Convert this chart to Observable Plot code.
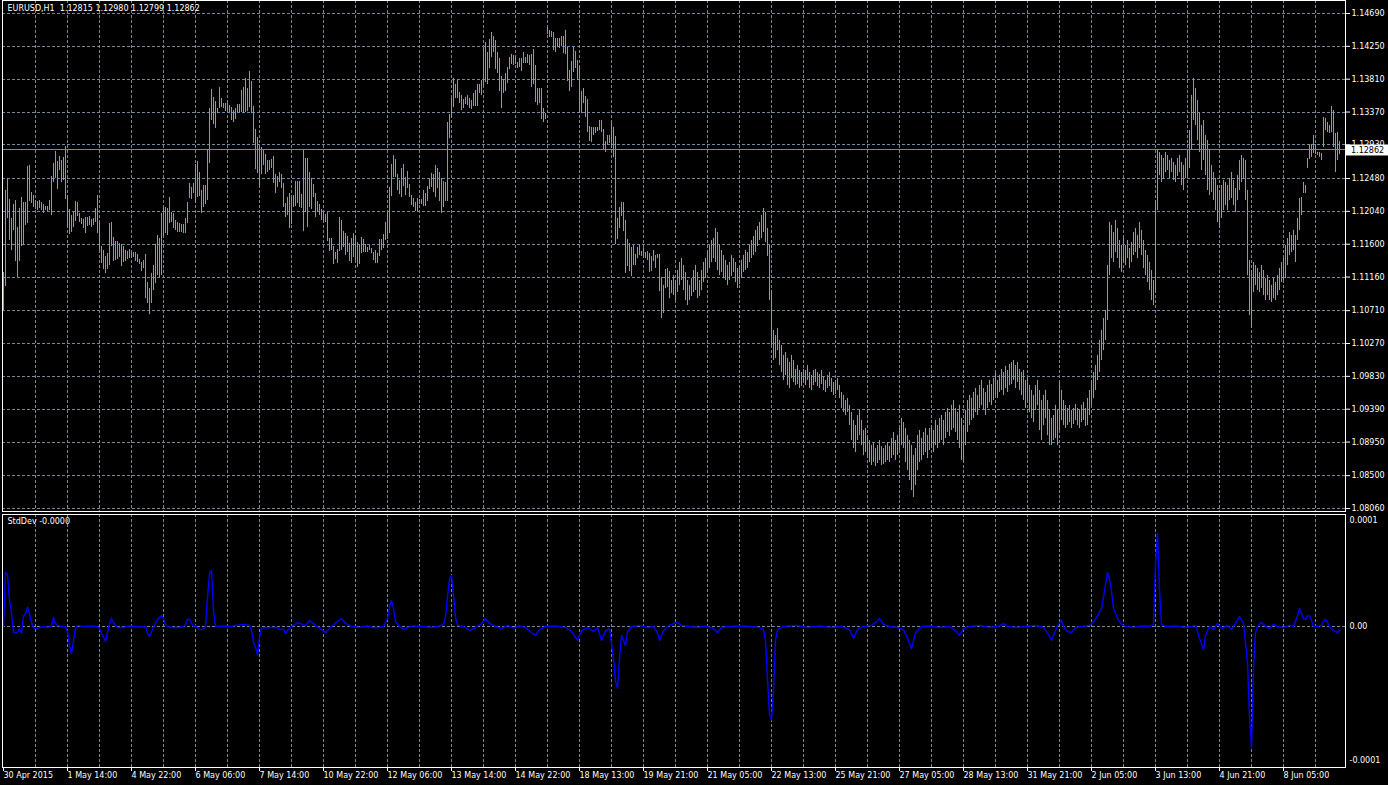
<!DOCTYPE html>
<html><head><meta charset="utf-8">
<script src="https://cdn.jsdelivr.net/npm/d3@7"></script>
<script src="https://cdn.jsdelivr.net/npm/@observablehq/plot@0.6"></script>
<style>
html,body{margin:0;padding:0;background:#000;overflow:hidden;}
#chart{position:relative;width:1388px;height:785px;background:#000;}
#chart svg{position:absolute;left:0;max-width:none;}
</style></head><body><div id="chart"></div>
<script>
// ---------- data ----------
const symbol = "EURUSD,H1";
const lastOHLC = [1.12815, 1.12980, 1.12799, 1.12862];

const highs = [
1.1122,1.1232,1.1248,1.1220,1.1194,1.1213,1.1218,1.1182,1.1208,1.1223,
1.1216,1.1216,1.1264,1.1265,1.1229,1.1225,1.1218,1.1217,1.1218,1.1216,
1.1213,1.1211,1.1211,1.1218,1.1251,1.1268,1.1284,1.1271,1.1278,1.1272,
1.1276,1.1291,1.1225,1.1206,1.1198,1.1202,1.1217,1.1216,1.1201,1.1194,
1.1193,1.1196,1.1196,1.1197,1.1193,1.1194,1.1208,1.1225,1.1189,1.1157,
1.1152,1.1144,1.1148,1.1188,1.1189,1.1169,1.1164,1.1164,1.1161,1.1160,
1.1157,1.1152,1.1150,1.1153,1.1150,1.1149,1.1149,1.1146,1.1139,1.1136,
1.1138,1.1146,1.1109,1.1101,1.1121,1.1132,1.1160,1.1172,1.1168,1.1201,
1.1209,1.1209,1.1208,1.1223,1.1202,1.1201,1.1192,1.1189,1.1188,1.1186,
1.1186,1.1194,1.1216,1.1241,1.1236,1.1241,1.1267,1.1271,1.1256,1.1232,
1.1239,1.1239,1.1287,1.1342,1.1367,1.1357,1.1351,1.1342,1.1370,1.1355,
1.1349,1.1349,1.1349,1.1346,1.1343,1.1339,1.1342,1.1347,1.1347,1.1366,
1.1370,1.1382,1.1369,1.1391,1.1378,1.1345,1.1314,1.1303,1.1290,1.1290,
1.1286,1.1280,1.1272,1.1272,1.1273,1.1278,1.1253,1.1251,1.1256,1.1253,
1.1241,1.1215,1.1223,1.1228,1.1223,1.1225,1.1244,1.1244,1.1244,1.1227,
1.1287,1.1275,1.1275,1.1256,1.1248,1.1240,1.1228,1.1217,1.1213,1.1206,
1.1201,1.1200,1.1202,1.1168,1.1168,1.1157,1.1149,1.1153,1.1196,1.1192,
1.1177,1.1174,1.1170,1.1161,1.1168,1.1174,1.1170,1.1162,1.1160,1.1169,
1.1166,1.1160,1.1156,1.1158,1.1154,1.1149,1.1152,1.1148,1.1166,1.1166,
1.1173,1.1189,1.1202,1.1236,1.1267,1.1279,1.1273,1.1253,1.1245,1.1261,
1.1267,1.1249,1.1257,1.1240,1.1225,1.1221,1.1216,1.1221,1.1220,1.1220,
1.1232,1.1228,1.1237,1.1247,1.1255,1.1253,1.1265,1.1261,1.1256,1.1248,
1.1244,1.1243,1.1323,1.1334,1.1355,1.1382,1.1374,1.1379,1.1363,1.1359,
1.1354,1.1357,1.1359,1.1355,1.1353,1.1362,1.1366,1.1374,1.1374,1.1379,
1.1422,1.1430,1.1417,1.1434,1.1444,1.1438,1.1433,1.1417,1.1409,1.1385,
1.1381,1.1389,1.1397,1.1410,1.1414,1.1413,1.1411,1.1403,1.1409,1.1409,
1.1417,1.1410,1.1414,1.1413,1.1414,1.1421,1.1399,1.1369,1.1369,1.1369,
1.1342,1.1335,1.1450,1.1446,1.1445,1.1444,1.1436,1.1436,1.1436,1.1438,
1.1438,1.1446,1.1423,1.1393,1.1405,1.1423,1.1418,1.1406,1.1398,1.1365,
1.1369,1.1358,1.1354,1.1318,1.1316,1.1316,1.1316,1.1316,1.1326,1.1326,
1.1314,1.1298,1.1306,1.1306,1.1322,1.1316,1.1304,1.1194,1.1209,1.1216,
1.1216,1.1192,1.1166,1.1161,1.1156,1.1158,1.1146,1.1156,1.1158,1.1150,
1.1154,1.1149,1.1150,1.1148,1.1144,1.1152,1.1145,1.1146,1.1146,1.1115,
1.1105,1.1126,1.1128,1.1124,1.1111,1.1118,1.1111,1.1125,1.1136,1.1141,
1.1132,1.1122,1.1111,1.1105,1.1114,1.1125,1.1132,1.1122,1.1111,1.1125,
1.1136,1.1141,1.1152,1.1158,1.1165,1.1168,1.1181,1.1176,1.1158,1.1152,
1.1145,1.1138,1.1132,1.1136,1.1145,1.1141,1.1136,1.1128,1.1130,1.1138,
1.1145,1.1152,1.1149,1.1158,1.1165,1.1170,1.1178,1.1184,1.1189,1.1198,
1.1208,1.1202,1.1181,1.1158,1.1098,1.1044,1.1038,1.1047,1.1031,1.1024,
1.1011,1.1015,1.1007,1.1002,1.1011,1.1004,1.0992,1.0998,1.0991,1.0988,
1.0992,1.0991,1.0998,1.0988,1.0984,1.0991,1.0992,1.0988,1.0985,1.0991,
1.0983,1.0977,1.0984,1.0988,1.0980,1.0975,1.0977,1.0980,1.0971,1.0961,
1.0957,1.0951,1.0953,1.0944,1.0935,1.0924,1.0917,1.0931,1.0937,1.0924,
1.0911,1.0913,1.0904,1.0897,1.0890,1.0894,1.0886,1.0890,1.0897,1.0889,
1.0886,1.0890,1.0894,1.0889,1.0900,1.0908,1.0897,1.0904,1.0913,1.0927,
1.0921,1.0913,1.0904,1.0897,1.0890,1.0877,1.0886,1.0904,1.0911,1.0900,
1.0908,1.0913,1.0904,1.0913,1.0917,1.0911,1.0924,1.0917,1.0927,1.0931,
1.0924,1.0935,1.0940,1.0935,1.0944,1.0951,1.0940,1.0935,1.0944,1.0927,
1.0917,1.0937,1.0951,1.0957,1.0953,1.0961,1.0967,1.0957,1.0971,1.0977,
1.0967,1.0961,1.0971,1.0977,1.0972,1.0980,1.0988,1.0977,1.0984,1.0992,
1.0988,1.0996,1.0991,1.0999,1.1002,1.1004,1.0998,1.1002,1.0992,1.0988,
1.0991,1.0977,1.0980,1.0971,1.0964,1.0957,1.0971,1.0977,1.0964,1.0951,
1.0957,1.0964,1.0951,1.0937,1.0927,1.0931,1.0944,1.0937,1.0975,1.0964,
1.0951,1.0944,1.0940,1.0944,1.0937,1.0940,1.0945,1.0940,1.0937,1.0944,
1.0948,1.0940,1.0953,1.0964,1.0977,1.0988,1.0998,1.1011,1.1031,1.1044,
1.1061,1.1071,1.1132,1.1189,1.1185,1.1176,1.1192,1.1181,1.1165,1.1158,
1.1168,1.1158,1.1165,1.1154,1.1162,1.1176,1.1181,1.1172,1.1189,1.1178,
1.1165,1.1152,1.1145,1.1136,1.1125,1.1111,1.1218,1.1286,1.1283,1.1279,
1.1275,1.1283,1.1279,1.1272,1.1275,1.1269,1.1265,1.1275,1.1279,1.1269,
1.1265,1.1275,1.1286,1.1312,1.1359,1.1382,1.1369,1.1353,1.1336,1.1319,
1.1326,1.1306,1.1299,1.1286,1.1265,1.1256,1.1248,1.1239,1.1232,1.1239,
1.1245,1.1243,1.1239,1.1248,1.1256,1.1245,1.1235,1.1252,1.1272,1.1279,
1.1275,1.1272,1.1232,1.1138,1.1125,1.1136,1.1132,1.1128,1.1122,1.1132,
1.1125,1.1114,1.1118,1.1111,1.1105,1.1114,1.1109,1.1118,1.1128,1.1136,
1.1141,1.1158,1.1168,1.1176,1.1172,1.1178,1.1172,1.1194,1.1221,1.1223,
1.1243,1.1239,1.1275,1.1294,1.1294,1.1306,1.1294,1.1283,1.1283,1.1282,
1.1330,1.1328,1.1323,1.1319,1.1345,1.1339,1.1308,1.1310,1.1298
];

const lows = [
1.1071,1.1103,1.1194,1.1165,1.1152,1.1178,1.1137,1.1115,1.1137,1.1157,
1.1158,1.1185,1.1188,1.1217,1.1215,1.1209,1.1206,1.1205,1.1208,1.1205,
1.1201,1.1205,1.1204,1.1205,1.1198,1.1243,1.1248,1.1233,1.1259,1.1243,
1.1245,1.1220,1.1182,1.1173,1.1176,1.1182,1.1190,1.1197,1.1189,1.1186,
1.1181,1.1174,1.1184,1.1185,1.1182,1.1185,1.1189,1.1174,1.1152,1.1134,
1.1126,1.1121,1.1126,1.1132,1.1157,1.1137,1.1138,1.1139,1.1142,1.1130,
1.1136,1.1137,1.1139,1.1141,1.1141,1.1142,1.1137,1.1136,1.1133,1.1124,
1.1128,1.1087,1.1081,1.1066,1.1081,1.1098,1.1107,1.1118,1.1115,1.1118,
1.1170,1.1174,1.1172,1.1188,1.1189,1.1181,1.1178,1.1176,1.1176,1.1176,
1.1174,1.1174,1.1188,1.1221,1.1220,1.1228,1.1215,1.1223,1.1224,1.1201,
1.1209,1.1213,1.1218,1.1268,1.1326,1.1320,1.1315,1.1335,1.1342,1.1343,
1.1342,1.1338,1.1336,1.1335,1.1326,1.1323,1.1327,1.1336,1.1336,1.1336,
1.1335,1.1336,1.1338,1.1343,1.1335,1.1295,1.1260,1.1255,1.1236,1.1253,
1.1265,1.1253,1.1256,1.1259,1.1261,1.1241,1.1228,1.1236,1.1243,1.1235,
1.1209,1.1196,1.1198,1.1181,1.1186,1.1209,1.1211,1.1215,1.1209,1.1208,
1.1177,1.1202,1.1182,1.1209,1.1206,1.1223,1.1196,1.1202,1.1198,1.1192,
1.1190,1.1189,1.1164,1.1150,1.1152,1.1133,1.1139,1.1134,1.1150,1.1152,
1.1156,1.1145,1.1149,1.1137,1.1134,1.1142,1.1138,1.1129,1.1133,1.1148,
1.1149,1.1149,1.1149,1.1152,1.1148,1.1138,1.1134,1.1134,1.1144,1.1152,
1.1154,1.1165,1.1166,1.1174,1.1224,1.1249,1.1249,1.1232,1.1227,1.1223,
1.1237,1.1225,1.1235,1.1223,1.1212,1.1209,1.1204,1.1204,1.1213,1.1213,
1.1211,1.1211,1.1217,1.1233,1.1236,1.1229,1.1223,1.1235,1.1217,1.1201,
1.1209,1.1217,1.1217,1.1302,1.1328,1.1343,1.1355,1.1355,1.1349,1.1339,
1.1342,1.1347,1.1346,1.1342,1.1340,1.1345,1.1345,1.1345,1.1362,1.1359,
1.1373,1.1377,1.1374,1.1395,1.1410,1.1417,1.1394,1.1389,1.1365,1.1342,
1.1362,1.1365,1.1375,1.1394,1.1401,1.1399,1.1401,1.1395,1.1397,1.1391,
1.1402,1.1402,1.1402,1.1399,1.1370,1.1374,1.1350,1.1346,1.1349,1.1327,
1.1323,1.1327,1.1441,1.1437,1.1437,1.1419,1.1417,1.1423,1.1422,1.1425,
1.1415,1.1414,1.1378,1.1365,1.1370,1.1390,1.1395,1.1379,1.1335,1.1335,
1.1349,1.1330,1.1310,1.1298,1.1296,1.1306,1.1308,1.1311,1.1312,1.1310,
1.1286,1.1283,1.1292,1.1295,1.1288,1.1276,1.1160,1.1166,1.1181,1.1197,
1.1177,1.1121,1.1130,1.1124,1.1117,1.1132,1.1132,1.1141,1.1145,1.1144,
1.1141,1.1141,1.1138,1.1122,1.1124,1.1137,1.1128,1.1141,1.1097,1.1061,
1.1067,1.1101,1.1102,1.1087,1.1094,1.1091,1.1085,1.1095,1.1105,1.1111,
1.1098,1.1085,1.1078,1.1085,1.1090,1.1095,1.1098,1.1087,1.1090,1.1098,
1.1109,1.1114,1.1122,1.1128,1.1136,1.1141,1.1136,1.1125,1.1118,1.1122,
1.1114,1.1111,1.1105,1.1111,1.1117,1.1122,1.1109,1.1101,1.1106,1.1114,
1.1122,1.1125,1.1128,1.1136,1.1141,1.1145,1.1149,1.1157,1.1165,1.1168,
1.1176,1.1162,1.1144,1.1085,1.1024,1.1004,1.1007,1.1018,1.0998,1.0988,
1.0977,1.0984,1.0971,1.0967,1.0980,1.0975,1.0971,1.0972,1.0967,1.0969,
1.0975,1.0971,1.0977,1.0967,1.0964,1.0971,1.0975,1.0969,1.0967,1.0972,
1.0964,1.0961,1.0967,1.0969,1.0961,1.0957,1.0959,1.0964,1.0953,1.0940,
1.0935,1.0931,1.0935,1.0917,1.0897,1.0886,1.0881,1.0897,1.0904,1.0890,
1.0877,1.0881,1.0873,1.0868,1.0864,1.0868,1.0862,1.0866,1.0870,1.0864,
1.0865,1.0868,1.0870,1.0868,1.0873,1.0877,1.0870,1.0877,1.0884,1.0890,
1.0886,1.0868,1.0857,1.0844,1.0830,1.0821,1.0837,1.0857,1.0868,1.0870,
1.0877,1.0881,1.0873,1.0884,1.0886,1.0881,1.0890,1.0886,1.0894,1.0897,
1.0890,1.0900,1.0908,1.0902,1.0911,1.0913,1.0908,1.0897,1.0886,1.0870,
1.0868,1.0890,1.0908,1.0917,1.0924,1.0927,1.0935,1.0931,1.0940,1.0944,
1.0937,1.0931,1.0940,1.0948,1.0944,1.0951,1.0957,1.0953,1.0961,1.0964,
1.0957,1.0967,1.0961,1.0971,1.0972,1.0977,1.0967,1.0975,1.0964,1.0957,
1.0951,1.0940,1.0948,1.0935,1.0927,1.0921,1.0937,1.0944,1.0911,1.0897,
1.0917,1.0927,1.0904,1.0890,1.0890,1.0897,1.0900,1.0890,1.0911,1.0924,
1.0917,1.0913,1.0917,1.0921,1.0913,1.0919,1.0924,1.0917,1.0913,1.0921,
1.0924,1.0916,1.0917,1.0931,1.0944,1.0953,1.0964,1.0977,1.0988,1.1004,
1.1018,1.1031,1.1058,1.1118,1.1141,1.1136,1.1149,1.1141,1.1128,1.1122,
1.1136,1.1132,1.1141,1.1128,1.1136,1.1145,1.1149,1.1141,1.1154,1.1145,
1.1128,1.1118,1.1109,1.1098,1.1085,1.1078,1.1098,1.1205,1.1252,1.1243,
1.1248,1.1256,1.1259,1.1248,1.1256,1.1245,1.1243,1.1251,1.1256,1.1239,
1.1232,1.1248,1.1252,1.1261,1.1286,1.1326,1.1319,1.1299,1.1283,1.1259,
1.1272,1.1252,1.1232,1.1225,1.1229,1.1219,1.1205,1.1189,1.1181,1.1194,
1.1205,1.1212,1.1205,1.1219,1.1221,1.1212,1.1202,1.1219,1.1232,1.1243,
1.1248,1.1219,1.1118,1.1064,1.1047,1.1095,1.1105,1.1098,1.1095,1.1101,
1.1091,1.1085,1.1091,1.1085,1.1082,1.1087,1.1085,1.1091,1.1098,1.1109,
1.1111,1.1114,1.1132,1.1145,1.1149,1.1152,1.1136,1.1165,1.1178,1.1198,
1.1228,1.1228,1.1261,1.1273,1.1276,1.1282,1.1280,1.1279,1.1276,1.1272,
1.1290,1.1312,1.1310,1.1308,1.1310,1.1290,1.1256,1.1272,1.1280
];

const timeLabels = ["30 Apr 2015","1 May 14:00","4 May 22:00","6 May 06:00","7 May 14:00",
  "10 May 22:00","12 May 06:00","13 May 14:00","14 May 22:00","18 May 13:00","19 May 21:00",
  "21 May 05:00","22 May 13:00","25 May 21:00","27 May 05:00","28 May 13:00","31 May 21:00",
  "2 Jun 05:00","3 Jun 13:00","4 Jun 21:00","8 Jun 05:00"];

const priceTicks = [1.14690,1.14250,1.13810,1.13370,1.12930,1.12480,1.12040,1.11600,
  1.11160,1.10710,1.10270,1.09830,1.09390,1.08950,1.08500,1.08060];

const stdName = "StdDev";
const stdBars = [0,1,2,3,4,5,6,7,8,9,10,11,12,13,14,15,16,18,20,22,24,25,26,27,29,31,32,33,34,35,36,37,40,44,47,48,49,50,51,52,53,54,55,56,57,60,63,66,69,71,72,73,74,75,76,77,78,79,80,81,82,84,88,90,91,92,93,94,95,96,97,98,99,100,101,102,103,104,105,106,110,114,116,120,123,124,125,126,127,128,129,133,137,138,139,140,141,142,143,144,145,146,147,148,151,153,156,159,161,164,167,169,171,174,178,182,186,190,192,193,194,195,196,198,200,202,205,210,214,218,220,221,222,223,224,225,226,227,230,233,236,239,241,243,246,249,252,255,258,261,264,266,268,271,276,281,284,287,289,292,295,297,299,301,303,305,306,307,308,309,311,312,314,318,322,325,327,328,330,332,335,337,339,343,347,351,355,357,359,363,368,373,378,380,381,382,383,384,385,386,387,390,396,402,408,414,419,423,425,427,430,434,436,438,440,443,447,450,452,454,456,459,463,468,473,476,478,480,483,488,493,498,500,502,506,511,516,520,522,524,526,527,529,530,532,534,536,539,543,545,547,549,550,552,553,554,555,557,559,561,565,569,573,575,576,577,578,579,581,586,591,594,596,598,600,601,603,605,607,609,612,614,616,618,620,621,622,623,624,625,626,627,629,631,633,635,637,640,643,645,647,648,649,650,651,652,653,654,655,657,658,659,660,661,662,663,664,665,666,667,668];
const stdValues = [0,51e-6,49e-6,24.5e-6,13e-6,-5.7e-6,-5.7e-6,-5.7e-6,-1.9e-6,-6.6e-6,10e-6,12e-6,18e-6,12e-6,3.8e-6,-1e-6,-2e-6,-1e-6,0,-1e-6,0,8.5e-6,3e-6,1e-6,0,0,-5.3e-6,-18e-6,-25.5e-6,-13e-6,-2e-6,1e-6,0,0.5e-6,0,-2e-6,-6.6e-6,-10e-6,-14e-6,-5.7e-6,2.8e-6,7.5e-6,3.8e-6,1e-6,-1e-6,-1e-6,0.5e-6,0,-0.5e-6,0,-6.3e-6,-9.4e-6,-5.3e-6,-0.6e-6,3e-6,6.6e-6,8.5e-6,10.4e-6,7.5e-6,1.9e-6,0,-1e-6,-1e-6,0,1.9e-6,6.6e-6,6.9e-6,3e-6,0,1e-6,-1.6e-6,-3e-6,-3e-6,-2e-6,0,27.6e-6,50e-6,53e-6,15e-6,0,0.5e-6,0,1e-6,2e-6,1e-6,-3.8e-6,-14.8e-6,-19.5e-6,-27e-6,-10e-6,-1.6e-6,-1e-6,-1e-6,-3e-6,-2.5e-6,-2.5e-6,-6.6e-6,-3.8e-6,-1.6e-6,0,1e-6,2e-6,3.8e-6,3e-6,1e-6,5.7e-6,1e-6,-3e-6,-5.7e-6,0,4.7e-6,7.5e-6,3e-6,0,-1e-6,0.5e-6,-1.5e-6,0,7.5e-6,19e-6,24.5e-6,17e-6,4.7e-6,0,-3e-6,-1e-6,0.5e-6,0,-1e-6,0.5e-6,2e-6,9.4e-6,28e-6,45e-6,48e-6,30e-6,8.5e-6,1e-6,0,-3.8e-6,-1e-6,2.8e-6,7.5e-6,3e-6,0,-2e-6,1e-6,-1.5e-6,0.5e-6,-1e-6,-5.7e-6,-8.5e-6,-3e-6,0,0.5e-6,-1e-6,-4.7e-6,-13e-6,-4e-6,-1e-6,-4.7e-6,-1e-6,-13e-6,-4e-6,-2e-6,-30e-6,-52e-6,-58e-6,-30e-6,-8.5e-6,-18e-6,-5e-6,0,1e-6,-1e-6,0,-6e-6,-13e-6,-4e-6,0,2.8e-6,3.8e-6,1e-6,0,-1e-6,0.5e-6,-2e-6,-5.7e-6,-1e-6,0,0.5e-6,0,-1e-6,-3e-6,-13e-6,-50e-6,-83e-6,-88e-6,-60e-6,-13e-6,-3e-6,0,1e-6,-1e-6,0.5e-6,-1e-6,0,-3e-6,-11e-6,-3e-6,0,1e-6,3.8e-6,7.5e-6,2e-6,0,-1e-6,-3e-6,-11e-6,-21e-6,-6e-6,0,0.5e-6,-1e-6,0,-4e-6,-8.5e-6,-2e-6,0,1e-6,-1e-6,0.5e-6,2.8e-6,0,-1e-6,0,1e-6,-1e-6,-6e-6,-13e-6,-4e-6,1e-6,5.7e-6,0,-4.7e-6,-5.7e-6,-1e-6,0,1e-6,3.8e-6,10e-6,17e-6,28e-6,51e-6,45e-6,33e-6,17e-6,7.5e-6,2e-6,0,-1e-6,0.5e-6,0,2e-6,60e-6,88e-6,35e-6,2e-6,0,0.5e-6,-1e-6,0,1e-6,-11e-6,-22e-6,-8e-6,0,-3e-6,2.8e-6,-2e-6,1e-6,-3e-6,3e-6,9.4e-6,3e-6,-15e-6,-35e-6,-85e-6,-114e-6,-40e-6,-6e-6,0,4e-6,0,-2e-6,2e-6,0,-1e-6,1e-6,0,10e-6,17e-6,12e-6,7.5e-6,6.6e-6,10e-6,10e-6,6e-6,0,0,0.5e-6,1e-6,4.7e-6,6.6e-6,4e-6,0,-2e-6,-4e-6,-4.7e-6,-5.7e-6,-3.8e-6];
const stdTicks = [0.0001, 0, -0.000126];

// ---------- derived tables ----------
const bars = highs.map((h, i) => ({i, high: h, low: lows[i]}));
const std = stdBars.map((b, k) => ({i: b, v: stdValues[k]}));
const labelBars = timeLabels.map((_, k) => k * 32);
const gridBars = d3.range(16, highs.length, 16);

// ---------- styling ----------
const W = 1388;
const GRID = "#778899";
const GREEN = "#3cdc28";
const FONT = "'DejaVu Sans', Verdana, sans-serif";
const baseStyle = {background: "#000", color: "#fff", fontFamily: FONT, fontSize: "8px", overflow: "visible"};
const xDomain = [-0.5, 671];

const header = `${symbol}  ${lastOHLC.map(d => d.toFixed(5)).join(" ")}`;

const main = Plot.plot({
  width: W, height: 512,
  marginLeft: 2, marginRight: 43, marginTop: 0, marginBottom: 1,
  style: baseStyle,
  x: {domain: xDomain, axis: null},
  y: {domain: [1.080198, 1.148641], axis: null},
  marks: [
    Plot.gridY(priceTicks, {stroke: GRID, strokeOpacity: 1, strokeDasharray: "3,2", shapeRendering: "crispEdges"}),
    Plot.gridX(gridBars, {stroke: GRID, strokeOpacity: 1, strokeDasharray: "3,2", shapeRendering: "crispEdges"}),
    Plot.ruleX(bars, {x: "i", y1: "low", y2: "high", stroke: GREEN, strokeWidth: 1, shapeRendering: "crispEdges"}),
    Plot.ruleY([lastOHLC[3]], {stroke: GRID, strokeWidth: 1, shapeRendering: "crispEdges"}),
    Plot.axisY(priceTicks, {anchor: "right", label: null, tickSize: 4, tickPadding: 2, tickFormat: d3.format(".5f")}),
    Plot.frame({stroke: "#fff"}),
    Plot.text([header], {frameAnchor: "top-left", dx: 5, dy: 5, fill: "#fff", textAnchor: "start", lineAnchor: "top"})
  ]
});

const lower = Plot.plot({
  width: W, height: 273,
  marginLeft: 2, marginRight: 43, marginTop: 2, marginBottom: 18,
  style: baseStyle,
  x: {domain: xDomain, axis: null, label: null},
  y: {domain: [-0.000133, 0.0001056], axis: null, label: null},
  marks: [
    Plot.gridX(gridBars, {stroke: GRID, strokeOpacity: 1, strokeDasharray: "3,2", shapeRendering: "crispEdges"}),
    Plot.ruleY([0], {stroke: GRID, strokeDasharray: "3,2", shapeRendering: "crispEdges"}),
    Plot.line(std, {x: "i", y: "v", stroke: "#0000ff", strokeWidth: 1.4}),
    Plot.axisY(stdTicks, {anchor: "right", label: null, tickSize: 0, tickPadding: 4, tickFormat: d => d === 0 ? "0.00" : d.toFixed(4)}),
    Plot.axisX(labelBars, {anchor: "bottom", label: null, tickSize: 4, tickPadding: 1, textAnchor: "start", tickFormat: d => timeLabels[d / 32]}),
    Plot.frame({stroke: "#fff"}),
    Plot.text([`${stdName} ${stdValues[stdValues.length - 1].toFixed(4)}`], {frameAnchor: "top-left", dx: 5, dy: 4, fill: "#fff", textAnchor: "start", lineAnchor: "top"})
  ]
});

main.style.top = "0px";
lower.style.top = "512px";
const chart = document.getElementById("chart");
chart.appendChild(main);
chart.appendChild(lower);

// current price label box on the right axis (positioned through Plot's y scale)
const yy = main.scale("y").apply(lastOHLC[3]) + 0.5;
const g = d3.select(main).append("g");
g.append("rect").attr("x", 1346).attr("y", yy - 5.5).attr("width", 42).attr("height", 11).attr("fill", "#fff");
g.append("text").attr("x", 1351).attr("y", yy).attr("dy", "0.35em")
  .attr("text-anchor", "start")
  .attr("fill", "#000").attr("font-family", FONT).attr("font-size", 8)
  .text(lastOHLC[3].toFixed(5));
</script>
</body></html>
